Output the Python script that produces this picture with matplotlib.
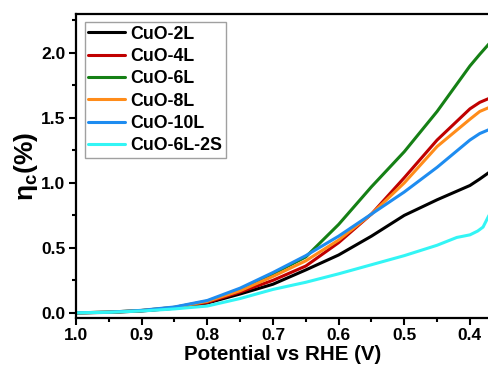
import matplotlib
matplotlib.use("Agg")
import matplotlib.pyplot as plt
from matplotlib.ticker import MultipleLocator

plt.rcParams['font.family'] = ['Liberation Sans', 'DejaVu Sans']
plt.rcParams['font.weight'] = 'bold'
plt.rcParams['mathtext.default'] = 'regular'

potential = [1.0, 0.95, 0.9, 0.85, 0.8, 0.75, 0.7, 0.65, 0.6, 0.55, 0.5, 0.45, 0.4, 0.385, 0.371]
cuo_2l  = [0.0, 0.003, 0.014, 0.035, 0.075, 0.145, 0.22, 0.33, 0.445, 0.59, 0.75, 0.87, 0.98, 1.03, 1.08]
cuo_4l  = [0.0, 0.004, 0.016, 0.038, 0.08, 0.16, 0.25, 0.36, 0.54, 0.76, 1.04, 1.33, 1.57, 1.62, 1.65]
cuo_6l  = [0.0, 0.005, 0.018, 0.042, 0.09, 0.18, 0.30, 0.43, 0.68, 0.97, 1.24, 1.55, 1.90, 1.99, 2.07]
cuo_8l  = [0.0, 0.005, 0.018, 0.042, 0.088, 0.17, 0.28, 0.40, 0.56, 0.76, 1.00, 1.28, 1.49, 1.55, 1.58]
cuo_10l = [0.0, 0.005, 0.019, 0.045, 0.095, 0.19, 0.31, 0.44, 0.59, 0.76, 0.93, 1.12, 1.33, 1.38, 1.41]
pot_2s  = [1.0, 0.95, 0.9, 0.85, 0.8, 0.75, 0.7, 0.65, 0.6, 0.55, 0.5, 0.45, 0.42, 0.4, 0.388, 0.38, 0.371]
cuo_6l_2s = [0.0, 0.004, 0.014, 0.03, 0.052, 0.11, 0.18, 0.235, 0.30, 0.37, 0.44, 0.52, 0.58, 0.60, 0.63, 0.66, 0.75]

labels = ['CuO-2L', 'CuO-4L', 'CuO-6L', 'CuO-8L', 'CuO-10L', 'CuO-6L-2S']
colors = ['#000000', '#c00000', '#158015', '#ff8c1a', '#1e8cf0', '#33f5f5']

fig = plt.figure(figsize=(4.88, 3.72), dpi=100)
ax = fig.add_axes([76/488, (372-318)/372, 1 - 76/488 + 0.002, (318-14)/372])

series = [cuo_2l, cuo_4l, cuo_6l, cuo_8l, cuo_10l]
for ys, lab, c in zip(series, labels[:5], colors[:5]):
    ax.plot(potential, ys, color=c, lw=2.2, label=lab, solid_capstyle='round')
ax.plot(pot_2s, cuo_6l_2s, color=colors[5], lw=2.2, label=labels[5], solid_capstyle='round')

ax.set_xlim(1.0, 0.371)
ax.set_ylim(-0.04, 2.30)
ax.xaxis.set_major_locator(MultipleLocator(0.1))
ax.xaxis.set_minor_locator(MultipleLocator(0.05))
ax.yaxis.set_major_locator(MultipleLocator(0.5))
ax.yaxis.set_minor_locator(MultipleLocator(0.25))
ax.tick_params(which='both', direction='out', width=1.5, labelsize=12.5, top=False, right=False)
ax.tick_params(which='major', length=5, pad=2.5)
ax.tick_params(which='minor', length=2.8)
for s in ['left', 'bottom', 'top']:
    ax.spines[s].set_linewidth(1.6)
ax.spines['right'].set_visible(False)
for lab in ax.get_xticklabels() + ax.get_yticklabels():
    lab.set_fontweight('bold')

ax.set_xlabel('Potential vs RHE (V)', fontsize=14.8, fontweight='bold', labelpad=1)
ax.set_ylabel('η$_c$(%)', fontsize=19, fontweight='bold', labelpad=1)

leg = ax.legend(loc='upper left', bbox_to_anchor=(0.012, 0.985), fontsize=12.8, frameon=True,
                fancybox=False, edgecolor='#888888', handlelength=2.1, handletextpad=0.3,
                labelspacing=0.3, borderpad=0.2, borderaxespad=0.2)
leg.get_frame().set_linewidth(1.0)
for t in leg.get_texts():
    t.set_fontweight('bold')

fig.savefig('out.png', dpi=100)
